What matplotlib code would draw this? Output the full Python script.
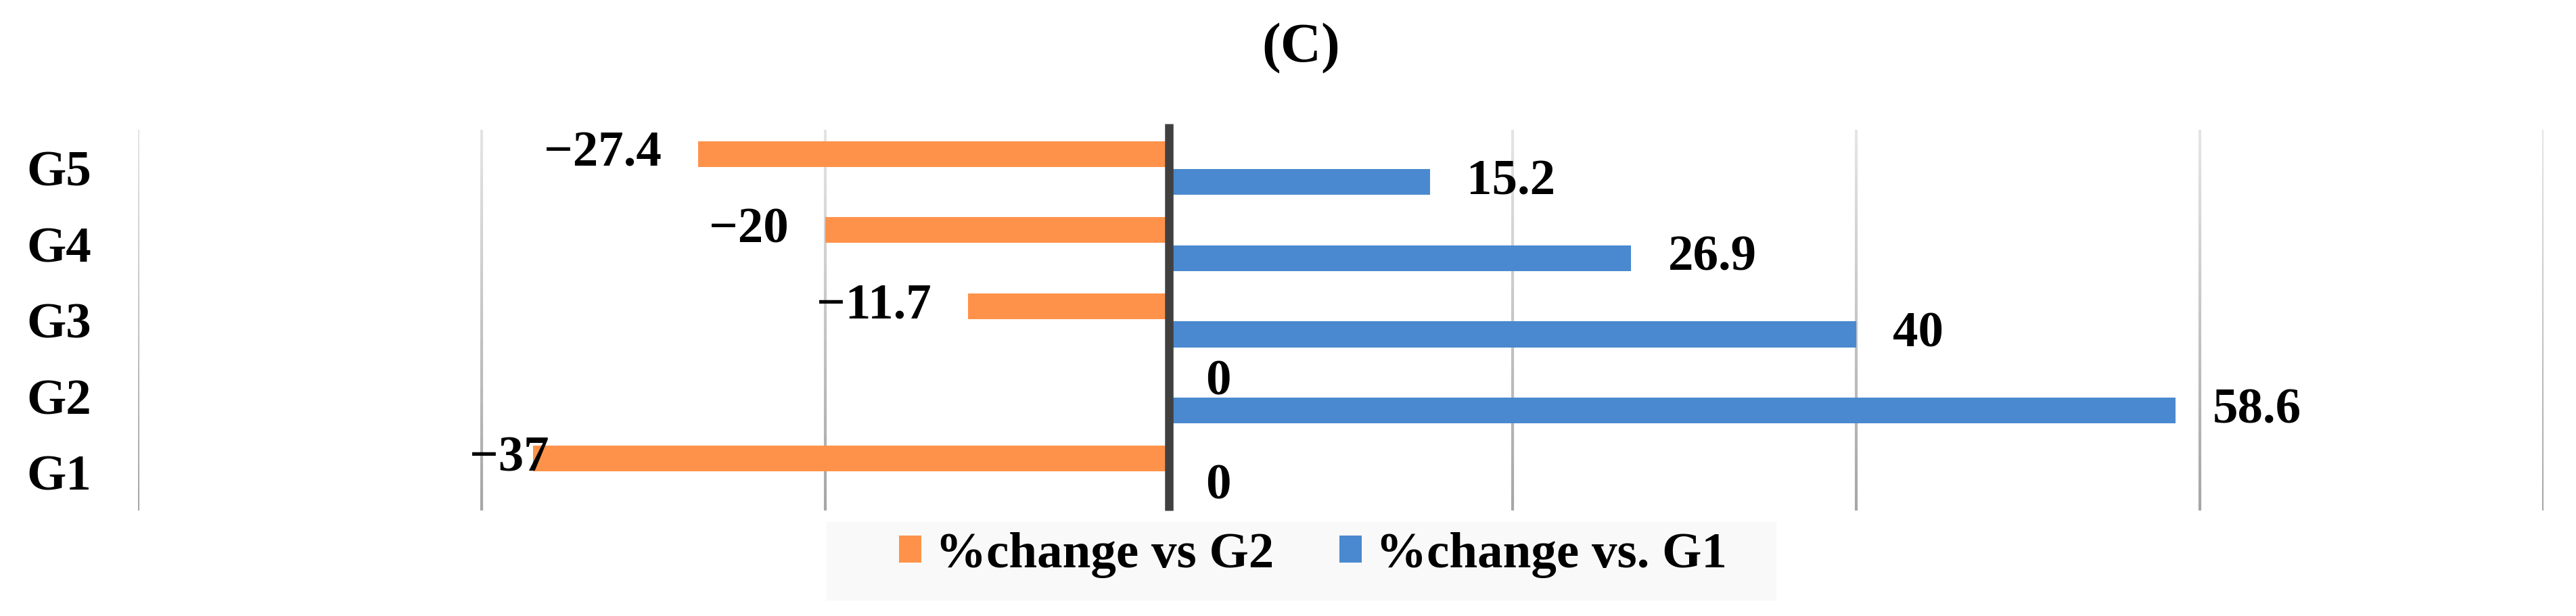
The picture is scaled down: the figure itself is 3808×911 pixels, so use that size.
import numpy as np
import matplotlib
matplotlib.use('Agg')
import matplotlib.pyplot as plt
from matplotlib.collections import LineCollection
from matplotlib.colors import to_rgb
from matplotlib.patches import Rectangle

# data
groups = ['G1', 'G2', 'G3', 'G4', 'G5']
change_vs_g2 = [-37, 0, -11.7, -20, -27.4]
change_vs_g1 = [0, 58.6, 40, 26.9, 15.2]
series_names = ['%change vs G2', '%change vs. G1']
grid_ticks = [-60, -40, -20, 20, 40, 60, 80]

orange = '#FF924A'
blue = '#4A89CF'
plt.rcParams['font.family'] = ['Liberation Serif', 'DejaVu Serif']
fs = 54

fig = plt.figure(figsize=(38.08, 9.11), dpi=100)
ax = fig.add_axes([0.0536, 0.171, 0.9338, 0.618])

y = np.arange(len(groups))
h = 0.34
off = 0.185
b1 = ax.barh(y + off, change_vs_g2, height=h, color=orange, zorder=2,
             label=series_names[0])
b2 = ax.barh(y - off, change_vs_g1, height=h, color=blue, zorder=2,
             label=series_names[1])

ax.set_xlim(-60, 80)
ax.set_ylim(-0.5, 4.5)

# gridlines fading from light at the top to darker at the bottom
n = 40
ys = np.linspace(-0.5, 4.5, n + 1)
top = np.array(to_rgb('#e6e6e6'))
bot = np.array(to_rgb('#a6a6a6'))
for gx in grid_ticks:
    segs = [[(gx, ys[i]), (gx, ys[i + 1])] for i in range(n)]
    cols = [bot + (top - bot) * (i / n) for i in range(n)]
    ax.add_collection(LineCollection(segs, colors=cols, linewidths=3,
                                     zorder=1, capstyle='butt'))

# dark zero line, reaching a little above the plot area
ax.plot([0, 0], [-0.5, 4.58], color='#404040', lw=9, zorder=3,
        solid_capstyle='butt', clip_on=False)

for s in ax.spines.values():
    s.set_visible(False)
ax.set_xticks([])
ax.set_yticks(y)
ax.set_yticklabels(groups, fontsize=fs, fontweight='bold')
ax.tick_params(axis='y', length=0, pad=50)


def fmt(v):
    s = '{:g}'.format(abs(v))
    return '\u2212' + s if v < 0 else s


# data labels just outside the bar ends
for vals, yy in ((change_vs_g2, y + off), (change_vs_g1, y - off)):
    for v, yp in zip(vals, yy):
        if v < 0:
            dx, ha = -39, 'right'
            if v == -37:
                dx = 17  # this one sits over the bar end in the original
        else:
            dx, ha = 39, 'left'
        ax.annotate(fmt(v), (v, yp), xytext=(dx, 0), textcoords='offset points',
                    ha=ha, va='center', fontsize=fs, fontweight='bold',
                    zorder=4)

fig.text(0.505, 0.921, '(C)', fontsize=60, fontweight='bold',
         ha='center', va='center')

# legend with light grey panel underneath
fig.patches.append(Rectangle((0.3209, 0.0263), 0.3684, 0.126,
                             transform=fig.transFigure, color='#f9f9f9',
                             zorder=0))
fig.legend(handles=[b1, b2], loc='center', bbox_to_anchor=(0.5097, 0.0988),
           ncol=2, frameon=False, prop={'size': fs, 'weight': 'bold'},
           handlelength=0.44, handleheight=0.44, handletextpad=0.27,
           columnspacing=1.3, borderpad=0.2)

fig.savefig('out.png', dpi=100)
